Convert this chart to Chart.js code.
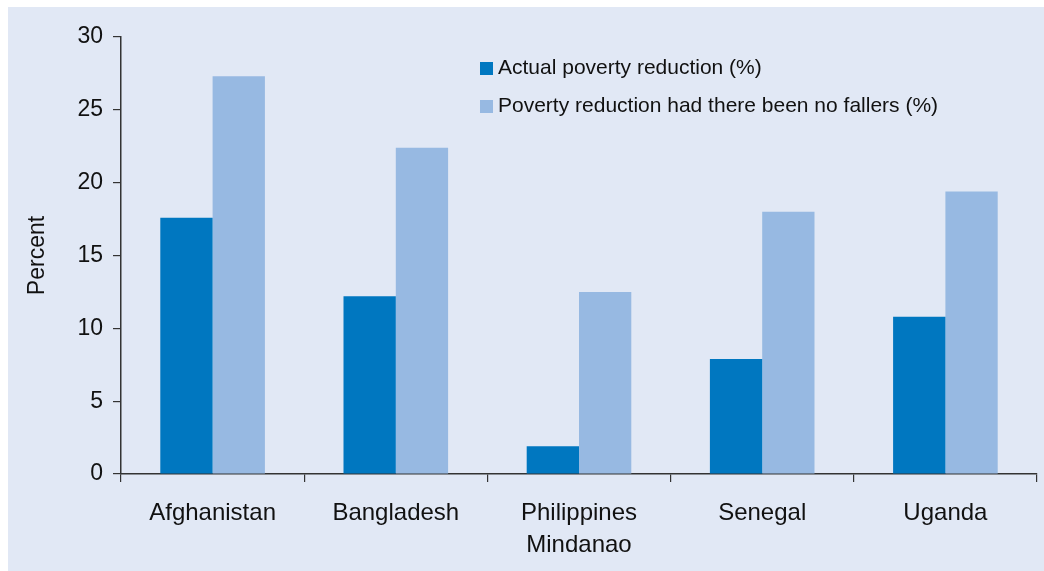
<!DOCTYPE html>
<html>
<head>
<meta charset="utf-8">
<script src="https://cdn.jsdelivr.net/npm/chart.js@4/dist/chart.umd.min.js"></script>
<style>
html, body { margin: 0; padding: 0; background: #ffffff; }
#panel { position: absolute; left: 8px; top: 7px; width: 1036px; height: 564px; background: #e1e8f5; }
#wrap { position: absolute; left: 0; top: 0; width: 1044px; height: 571px; }
#legend { position: absolute; left: 480px; top: 50px; font-family: "Liberation Sans", Arial, sans-serif; font-size: 21px; color: #111; }
#legend div { height: 38px; line-height: 34px; white-space: nowrap; }
#legend span.box { display: inline-block; width: 13px; height: 13px; margin-right: 5px; vertical-align: -1px; }
</style>
</head>
<body>
<div id="panel"></div>
<div id="wrap"><canvas id="chart" width="1044" height="571"></canvas></div>
<div id="legend"></div>
<script>
/* data */
const countries = ["Afghanistan", "Bangladesh", ["Philippines", "Mindanao"], "Senegal", "Uganda"];
const actual = [17.6, 12.2, 1.9, 7.9, 10.8];
const noFallers = [27.3, 22.4, 12.5, 18.0, 19.4];
const seriesNames = ["Actual poverty reduction (%)", "Poverty reduction had there been no fallers (%)"];
const seriesColors = ["#0077c0", "#97b9e2"];
const yTicks = [0, 5, 10, 15, 20, 25, 30];

const font = "'Liberation Sans', Arial, sans-serif";
const axisColor = "#333333";

/* legend as html, inside plot area */
document.getElementById("legend").innerHTML = seriesNames.map((n, i) =>
  `<div><span class="box" style="background:${seriesColors[i]}"></span>${n}</div>`
).join("");

new Chart(document.getElementById("chart"), {
  type: "bar",
  data: {
    labels: countries,
    datasets: [
      { label: seriesNames[0], data: actual, backgroundColor: seriesColors[0] },
      { label: seriesNames[1], data: noFallers, backgroundColor: seriesColors[1] }
    ]
  },
  options: {
    responsive: false,
    animation: false,
    categoryPercentage: 0.571,
    barPercentage: 1.0,
    layout: { padding: { left: 0, top: 37, right: 7, bottom: 0 } },
    plugins: { legend: { display: false }, tooltip: { enabled: false } },
    scales: {
      x: {
        afterFit: s => { s.height = 97; },
        grid: { offset: true, drawOnChartArea: false, drawTicks: true, tickLength: 8, color: axisColor, lineWidth: 1.2 },
        border: { display: true, color: axisColor, width: 1.5 },
        ticks: { color: "#111", padding: 15, font: { family: font, size: 24, lineHeight: 1.35 }, maxRotation: 0, autoSkip: false }
      },
      y: {
        min: 0,
        max: 30,
        afterFit: s => { s.width = 121; },
        afterBuildTicks: s => { s.ticks = yTicks.map(v => ({ value: v })); },
        grid: { drawOnChartArea: false, drawTicks: true, tickLength: 8, color: axisColor, lineWidth: 1.2 },
        border: { display: true, color: axisColor, width: 1.5 },
        ticks: { color: "#111", padding: 10, font: { family: font, size: 23 } },
        title: { display: true, text: "Percent", color: "#111", padding: { top: 24, bottom: 0 }, font: { family: font, size: 23 } }
      }
    }
  }
});
</script>
</body>
</html>
